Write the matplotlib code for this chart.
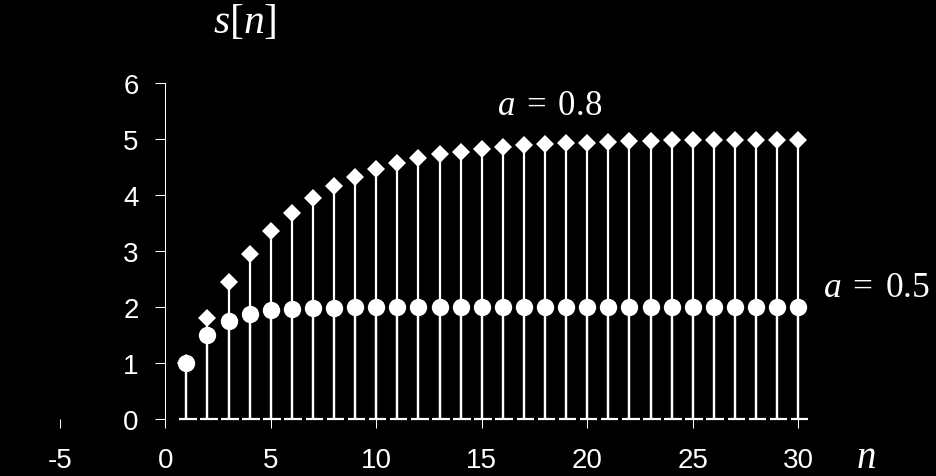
import matplotlib
matplotlib.use("Agg")
import matplotlib.pyplot as plt

plt.rcParams['mathtext.fontset'] = 'custom'
plt.rcParams['mathtext.rm'] = 'Liberation Serif'
plt.rcParams['mathtext.it'] = 'Liberation Serif:italic'
plt.rcParams['font.family'] = ['Liberation Sans', 'DejaVu Sans']

n = list(range(1, 31))
s_a08 = [1.0, 1.8, 2.44, 2.95, 3.36, 3.69, 3.95, 4.16, 4.33, 4.46,
         4.57, 4.66, 4.73, 4.78, 4.82, 4.86, 4.89, 4.91, 4.93, 4.94,
         4.95, 4.96, 4.97, 4.98, 4.98, 4.98, 4.99, 4.99, 4.99, 4.99]
s_a05 = [1.0, 1.5, 1.75, 1.88, 1.94, 1.97, 1.98, 1.99, 2.0, 2.0,
         2.0, 2.0, 2.0, 2.0, 2.0, 2.0, 2.0, 2.0, 2.0, 2.0,
         2.0, 2.0, 2.0, 2.0, 2.0, 2.0, 2.0, 2.0, 2.0, 2.0]
xticks = [-5, 0, 5, 10, 15, 20, 25, 30]
yticks = [0, 1, 2, 3, 4, 5, 6]

fig = plt.figure(figsize=(9.36, 4.77), dpi=100, facecolor='black')
ax = fig.add_axes([0, 0, 1, 1], facecolor='black')
ax.set_xlim(-7.834, 36.53)
ax.set_ylim(-1.019, 7.507)

W = 'white'
# stems
ax.vlines(n, 0, s_a08, color=W, lw=1.6, zorder=2)
ax.vlines(n, 0, s_a05, color=W, lw=1.6, zorder=2)
# per-stem baseline segments
ax.hlines([0] * len(n), [k - 0.35 for k in n], [k + 0.48 for k in n],
          color=W, lw=1.6, zorder=2)
# markers
ax.plot(n, s_a08, ls='none', marker='D', ms=9.2, mfc=W, mec=W, mew=0, zorder=3)
ax.plot(n, s_a05, ls='none', marker='o', ms=12.5, mfc=W, mec=W, mew=0, zorder=4)

# axes / spines
for side in ['top', 'right']:
    ax.spines[side].set_visible(False)
ax.spines['left'].set_position(('data', 0))
ax.spines['left'].set_bounds(0, 6)
ax.spines['left'].set_color(W)
ax.spines['left'].set_linewidth(0.75)
ax.spines['bottom'].set_position(('data', 0))
ax.spines['bottom'].set_visible(False)

ax.set_yticks(yticks)
ax.set_yticklabels([str(v) for v in yticks])
ax.set_xticks(xticks)
ax.set_xticklabels([str(v) for v in xticks])
ax.tick_params(axis='y', direction='out', length=7.2, width=0.75, color=W,
               labelcolor=W, labelsize=20, pad=12)
ax.tick_params(axis='x', direction='out', length=6.5, width=0.75, color=W,
               labelcolor=W, labelsize=20, pad=14)

# labels
ax.text(2.27, 6.92, r'$s[n]$', color=W, fontsize=30, ha='left', va='baseline')
ax.text(15.72, 5.45, r'$a\;=\;0.8$', color=W, fontsize=25, ha='left', va='baseline')
ax.text(31.17, 2.20, r'$a\;=\;0.5$', color=W, fontsize=25.5, ha='left', va='baseline')
ax.text(32.73, -0.858, r'$n$', color=W, fontsize=28, ha='left', va='baseline')

fig.savefig('out.png', dpi=100, facecolor='black')
